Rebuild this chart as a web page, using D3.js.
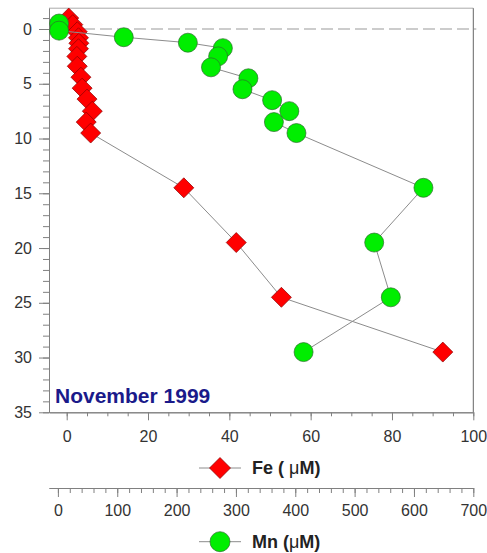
<!DOCTYPE html>
<html><head><meta charset="utf-8">
<script src="https://cdn.jsdelivr.net/npm/d3@7"></script>
<style>body{margin:0;background:#fff}svg{display:block}</style>
</head><body>
<script>
const feDepth = [-1, -0.4, 0.25, 0.8, 1.3, 1.8, 2.5, 3.4, 4.4, 5.4, 6.4, 7.5, 8.5, 9.5, 14.5, 19.5, 24.5, 29.5];
const feValue = [0.5, 1.5, 2.6, 2.9, 3.0, 2.9, 2.5, 2.6, 3.5, 3.8, 5.0, 6.3, 4.8, 5.9, 28.8, 41.7, 52.8, 92.5];
const mnDepth = [-0.5, 0.15, 0.75, 1.25, 1.75, 2.5, 3.5, 4.5, 5.5, 6.5, 7.5, 8.5, 9.5, 14.5, 19.5, 24.5, 29.5];
const mnValue = [2, 2, 111, 219, 278, 270, 258, 321, 311, 361, 390, 364, 402, 616, 533, 561, 414];
const depthTicks = [0, 5, 10, 15, 20, 25, 30, 35];
const feTicks = [0, 20, 40, 60, 80, 100];
const mnTicks = [0, 100, 200, 300, 400, 500, 600, 700];
const title = "November 1999";

const W = 487, H = 553;
const L = 49, R = 473.3, T = 8.2, B = 412.3;
const svg = d3.select("body").append("svg").attr("width", W).attr("height", H);
const y = d3.scaleLinear().domain([-1.9, 35]).range([T, B]);
const xFe = d3.scaleLinear().domain([-4.35, 100]).range([L, R]);
const xMn = d3.scaleLinear().domain([-15, 700]).range([L, R]);
const font = "'Liberation Sans', Arial, sans-serif";
const axCol = "#808080";

// frame top & right
svg.append("line").attr("x1", L).attr("x2", R).attr("y1", T).attr("y2", T).attr("stroke", "#aaa").attr("stroke-width", 1);
svg.append("line").attr("x1", R).attr("x2", R).attr("y1", T).attr("y2", B).attr("stroke", "#666").attr("stroke-width", 1);

// dashed zero line
svg.append("line").attr("x1", L).attr("x2", R + 3).attr("y1", y(0)).attr("y2", y(0))
  .attr("stroke", "#999").attr("stroke-width", 1).attr("stroke-dasharray", "12,5");

function styleAxis(g) {
  g.selectAll("path,line").attr("stroke", axCol).attr("stroke-width", 1);
  g.selectAll("text").attr("fill", "#333").style("font-family", font).style("font-size", "16px");
}

// left axis
const yMinor = d3.range(-1, 36, 1);
const gyMinor = svg.append("g").attr("transform", `translate(${L},0)`)
  .call(d3.axisLeft(y).tickValues(yMinor).tickSize(6).tickFormat("").tickSizeOuter(0));
styleAxis(gyMinor);
const gy = svg.append("g").attr("transform", `translate(${L},0)`)
  .call(d3.axisLeft(y).tickValues(depthTicks).tickSize(10).tickPadding(7).tickSizeOuter(0));
styleAxis(gy);

// Fe axis (bottom of frame)
const feMinor = d3.range(0, 101, 5);
const gfm = svg.append("g").attr("transform", `translate(0,${B})`)
  .call(d3.axisBottom(xFe).tickValues(feMinor).tickSize(4).tickFormat("").tickSizeOuter(0));
styleAxis(gfm);
const gf = svg.append("g").attr("transform", `translate(0,${B})`)
  .call(d3.axisBottom(xFe).tickValues(feTicks).tickSize(8).tickPadding(10).tickSizeOuter(0));
styleAxis(gf);

// Mn axis
const mnY = 488;
const mnMinor = d3.range(0, 701, 20);
const gmm = svg.append("g").attr("transform", `translate(0,${mnY})`)
  .call(d3.axisBottom(xMn).tickValues(mnMinor).tickSize(5).tickFormat("").tickSizeOuter(0));
styleAxis(gmm);
const gm = svg.append("g").attr("transform", `translate(0,${mnY})`)
  .call(d3.axisBottom(xMn).tickValues(mnTicks).tickSize(9).tickPadding(8).tickSizeOuter(0));
styleAxis(gm);

// data
const fe = feDepth.map((d, i) => ({d, v: feValue[i]}));
const mn = mnDepth.map((d, i) => ({d, v: mnValue[i]}));
const diamond = (s) => `M0,${-s}L${s},0L0,${s}L${-s},0Z`;

svg.append("path").datum(fe)
  .attr("d", d3.line().x(p => xFe(p.v)).y(p => y(p.d)))
  .attr("fill", "none").attr("stroke", "#8c8c8c").attr("stroke-width", 1);
svg.append("g").selectAll("path").data(fe).join("path")
  .attr("transform", p => `translate(${xFe(p.v)},${y(p.d)})`)
  .attr("d", diamond(10)).attr("fill", "#ff0000").attr("stroke", "#8a0000").attr("stroke-width", 0.7);

svg.append("path").datum(mn)
  .attr("d", d3.line().x(p => xMn(p.v)).y(p => y(p.d)))
  .attr("fill", "none").attr("stroke", "#8c8c8c").attr("stroke-width", 1);
svg.append("g").selectAll("circle").data(mn).join("circle")
  .attr("cx", p => xMn(p.v)).attr("cy", p => y(p.d)).attr("r", 9.5)
  .attr("fill", "#00ee00").attr("stroke", "#2e6b2e").attr("stroke-width", 0.7);

// title
svg.append("text").attr("x", 55).attr("y", 403).text(title)
  .attr("fill", "#1a1a8a").style("font-family", font).style("font-size", "21px").style("font-weight", "bold");

// legends
function legend(yc, kind, label) {
  svg.append("line").attr("x1", 199).attr("x2", 241).attr("y1", yc).attr("y2", yc).attr("stroke", "#8c8c8c");
  if (kind === "d") {
    svg.append("path").attr("transform", `translate(220,${yc})`).attr("d", diamond(10.5))
      .attr("fill", "#ff0000").attr("stroke", "#8a0000").attr("stroke-width", 0.7);
  } else {
    svg.append("circle").attr("cx", 220).attr("cy", yc).attr("r", 10)
      .attr("fill", "#00ee00").attr("stroke", "#2e6b2e").attr("stroke-width", 0.7);
  }
  const t = svg.append("text").attr("x", 252).attr("y", yc).attr("dy", "0.36em")
    .attr("fill", "#222").style("font-family", font).style("font-size", "18px").style("font-weight", "bold");
  label.forEach(([s, bold]) => t.append("tspan").text(s).style("font-weight", bold ? "bold" : "normal"));
}
legend(468, "d", [["Fe ( ", true], ["μ", false], ["M)", true]]);
legend(541.7, "c", [["Mn (", true], ["μ", false], ["M)", true]]);
</script>
</body></html>
